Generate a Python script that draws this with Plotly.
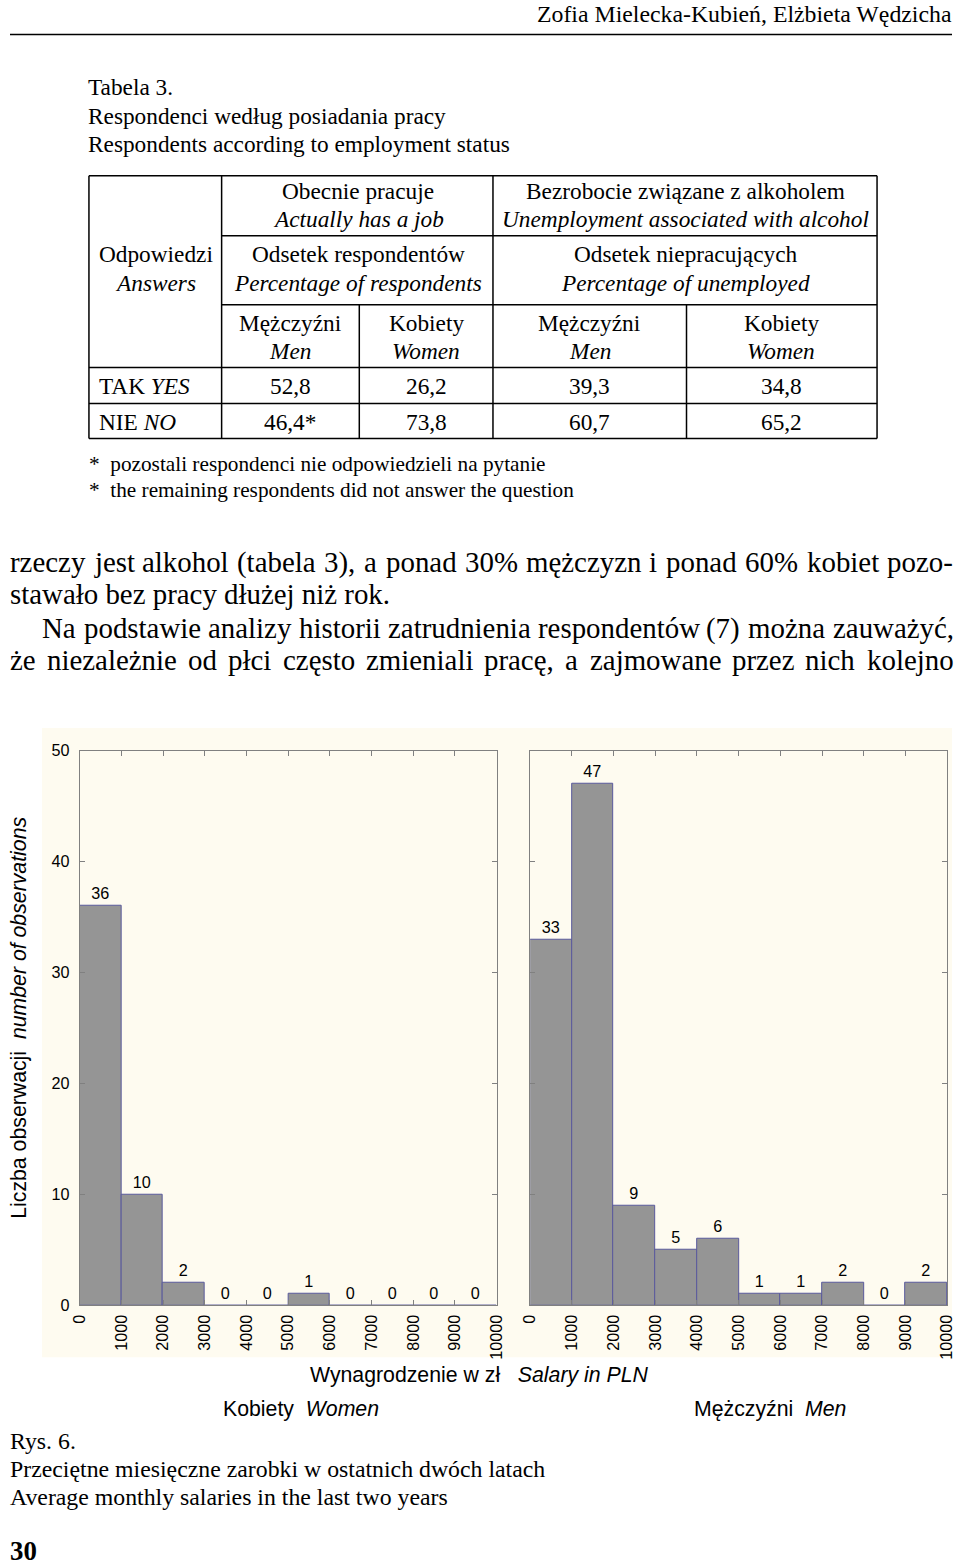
import plotly.graph_objects as go
from plotly.subplots import make_subplots

# ---------------- data ----------------
bin_centers = [500, 1500, 2500, 3500, 4500, 5500, 6500, 7500, 8500, 9500]
tick_vals = [0, 1000, 2000, 3000, 4000, 5000, 6000, 7000, 8000, 9000, 10000]
women_counts = [36, 10, 2, 0, 0, 1, 0, 0, 0, 0]
men_counts = [33, 47, 9, 5, 6, 1, 1, 2, 0, 2]

table_rows = ["TAK <i>YES</i>", "NIE <i>NO</i>"]
table_men_job = ["52,8", "46,4*"]
table_women_job = ["26,2", "73,8"]
table_men_unemp = ["39,3", "60,7"]
table_women_unemp = ["34,8", "65,2"]

# The photographed page shows the viewport inside an 8px frame, scaled
# 976x1583 -> 960x1567; layout positions below are given in photo pixels.
W, H = 960, 1567
PAD = 8
KX, KY = W / (W + 2 * PAD), H / (H + 2 * PAD)
FS = 2 / (KX + KY)
def vx(X):
    return max(0.0, X / KX - PAD)
def vy(Y):
    return Y / KY - PAD
def px(X):
    return min(1.0, vx(X) / W)
def py(Y):
    return 1 - vy(Y) / H
LEFT = PAD * KX  # leftmost reachable text edge

SERIF = "Liberation Serif, Times New Roman, serif"
SANS = "Liberation Sans, Arial, sans-serif"

fig = make_subplots(rows=1, cols=2)

bar_style = dict(
    width=1000,
    marker=dict(color="#959595", line=dict(color="#5a5a9c", width=1)),
    texttemplate="%{y}",
    textposition="outside",
    textfont=dict(family=SANS, size=16 * FS, color="black"),
    cliponaxis=False,
    showlegend=False,
)
fig.add_trace(go.Bar(x=bin_centers, y=women_counts, **bar_style), row=1, col=1)
fig.add_trace(go.Bar(x=bin_centers, y=men_counts, **bar_style), row=1, col=2)

ydom = [py(1306), py(750.7)]
xax = dict(range=[0, 10000], tickvals=tick_vals, ticktext=[str(t) for t in tick_vals],
           tickangle=-90, ticks="inside", ticklen=5, tickcolor="#808080",
           showline=True, linecolor="#808080", linewidth=1, mirror="ticks",
           showgrid=False, zeroline=False, ticklabelstandoff=2,
           tickfont=dict(family=SANS, size=16 * FS, color="black"))
yax = dict(range=[0, 50], dtick=10, ticks="inside", ticklen=5, tickcolor="#808080",
           showline=True, linecolor="#808080", linewidth=1, mirror="ticks",
           showgrid=False, zeroline=False, ticklabelstandoff=6,
           tickfont=dict(family=SANS, size=16 * FS, color="black"))

fig.update_layout(
    xaxis=dict(domain=[px(77.7), px(495.7)], **xax),
    xaxis2=dict(domain=[px(529.3), px(947.3)], **xax),
    yaxis=dict(domain=ydom, **yax),
    yaxis2=dict(domain=ydom, showticklabels=False, **yax),
)

shapes = []
shapes.append(dict(type="rect", xref="paper", yref="paper", layer="below",
                   x0=px(40), x1=px(954), y0=py(1358), y1=py(728),
                   fillcolor="#FEFBF0", line=dict(width=0)))
shapes.append(dict(type="line", xref="paper", yref="paper",
                   x0=px(LEFT), x1=px(953), y0=py(33.5), y1=py(33.5),
                   line=dict(color="black", width=1.5)))

def hline(y, x0, x1):
    shapes.append(dict(type="line", xref="paper", yref="paper",
                       x0=px(x0), x1=px(x1), y0=py(y), y1=py(y),
                       line=dict(color="black", width=1.5)))
def vline(x, y0, y1):
    shapes.append(dict(type="line", xref="paper", yref="paper",
                       x0=px(x), x1=px(x), y0=py(y0), y1=py(y1),
                       line=dict(color="black", width=1.5)))

T_L, T_R, T_T, T_B = 87, 877, 175, 438
hline(T_T, T_L, T_R)
hline(T_B, T_L, T_R)
hline(235, 220, T_R)
hline(304, 220, T_R)
hline(367, T_L, T_R)
hline(403, T_L, T_R)
vline(T_L, T_T, T_B)
vline(T_R, T_T, T_B)
vline(220, T_T, T_B)
vline(492, T_T, T_B)
vline(358, 304, T_B)
vline(686, 304, T_B)

ann = []
def text(x, y, s, size=23, family=SERIF, anchor="center", angle=0, bold=False):
    ann.append(dict(xref="paper", yref="paper", x=px(x), y=py(y), text=s,
                    showarrow=False, xanchor=anchor, yanchor="middle",
                    textangle=angle, borderpad=0, borderwidth=0,
                    font=dict(family=family, size=size * FS, color="black",
                              weight="bold" if bold else "normal")))

# Times advance widths (1/1000 em) for justified body text
TW = {" ": 250, "a": 444, "b": 500, "c": 444, "d": 500, "e": 444, "f": 333, "g": 500,
      "h": 500, "i": 278, "j": 278, "k": 500, "l": 278, "m": 778, "n": 500, "o": 500,
      "p": 500, "q": 500, "r": 333, "s": 389, "t": 278, "u": 500, "v": 500, "w": 722,
      "x": 500, "y": 500, "z": 444, "ę": 444, "ą": 444, "ł": 278, "ż": 444, "ź": 444,
      "ó": 500, "ć": 444, "ń": 500, "ś": 389, "N": 722, "%": 833, "(": 333, ")": 333,
      ",": 250, ".": 250, "-": 333}
for d in "0123456789":
    TW[d] = 500

def wwidth(word, size):
    return sum(TW.get(ch, 500) for ch in word) * size / 1000.0

def justify(line, x0, x1, y, size):
    words = line.split(" ")
    widths = [wwidth(w, size) for w in words]
    gap = (x1 - x0 - sum(widths)) / (len(words) - 1)
    x = x0
    for w, wd in zip(words, widths):
        text(x, y, w, size=size, anchor="left")
        x += wd + gap

# header
text(952, 13, "Zofia Mielecka-Kubień, Elżbieta Wędzicha", size=23.5, anchor="right")
# table title
text(86, 86, "Tabela 3.", anchor="left")
text(86, 115, "Respondenci według posiadania pracy", anchor="left")
text(86, 143, "Respondents according to employment status", anchor="left")

# table header
text(357, 190, "Obecnie pracuje")
text(357, 218, "<i>Actually has a job</i>")
text(685, 190, "Bezrobocie związane z alkoholem")
text(685, 218, "<i>Unemployment associated with alcohol</i>")
text(357, 253, "Odsetek respondentów")
text(357, 282, "<i>Percentage of respondents</i>")
text(685, 253, "Odsetek niepracujących")
text(685, 282, "<i>Percentage of unemployed</i>")
text(154, 253, "Odpowiedzi")
text(154, 282, "<i>Answers</i>")
col_centers = [289, 425, 589, 781]
col_heads = [("Mężczyźni", "Men"), ("Kobiety", "Women"), ("Mężczyźni", "Men"), ("Kobiety", "Women")]
for cx, (pl, en) in zip(col_centers, col_heads):
    text(cx, 322, pl)
    text(cx, 350, "<i>%s</i>" % en)
row_ys = [385, 421]
for i, ry in enumerate(row_ys):
    text(97, ry, table_rows[i], anchor="left")
    for cx, vals in zip(col_centers, [table_men_job, table_women_job, table_men_unemp, table_women_unemp]):
        text(cx, ry, vals[i])

# footnotes
text(87, 464, "*  pozostali respondenci nie odpowiedzieli na pytanie", size=21, anchor="left")
text(87, 490, "*  the remaining respondents did not answer the question", size=21, anchor="left")

# body text (justified lines placed word by word)
BODY = 28.5
justify("rzeczy jest alkohol (tabela 3), a ponad 30% mężczyzn i ponad 60% kobiet pozo-", LEFT, 952, 562, BODY)
text(LEFT, 594, "stawało bez pracy dłużej niż rok.", size=BODY, anchor="left")
justify("Na podstawie analizy historii zatrudnienia respondentów (7) można zauważyć,", 40, 952, 628, BODY)
justify("że niezależnie od płci często zmieniali pracę, a zajmowane przez nich kolejno", LEFT, 952, 660, BODY)

# chart labels
text(17, 1018, "Liczba obserwacji  <i>number of observations</i>", size=21, family=SANS, angle=-90)
text(478, 1376, "Wynagrodzenie w zł   <i>Salary in PLN</i>", size=21, family=SANS)
text(300, 1410, "Kobiety  <i>Women</i>", size=21, family=SANS)
text(770, 1410, "Mężczyźni  <i>Men</i>", size=21, family=SANS)

# caption
text(LEFT, 1442, "Rys. 6.", size=23.5, anchor="left")
text(LEFT, 1470, "Przeciętne miesięczne zarobki w ostatnich dwóch latach", size=23.5, anchor="left")
text(LEFT, 1498, "Average monthly salaries in the last two years", size=23.5, anchor="left")
text(LEFT, 1552, "30", size=26.5, anchor="left", bold=True)

fig.update_layout(
    width=W, height=H,
    margin=dict(l=0, r=0, t=0, b=0),
    paper_bgcolor="white", plot_bgcolor="white",
    shapes=shapes, annotations=ann,
    bargap=0,
)

page_css = (
    "var st=document.createElement('style');"
    "st.textContent='html,body{margin:0!important;padding:0!important;border:0!important;}"
    "body>div{margin:0!important;padding:0!important;}"
    ".svg-container,.main-svg{overflow:visible!important;}';"
    "document.head.appendChild(st);"
)
fig.write_html("out.html", config={"displayModeBar": False}, post_script=page_css)
